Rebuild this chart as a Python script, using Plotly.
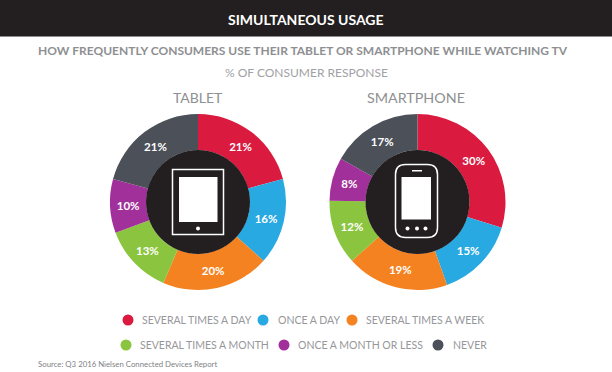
import plotly.graph_objects as go

W, H = 612, 372
categories = ["Several times a day", "Once a day", "Several times a week",
              "Several times a month", "Once a month or less", "Never"]
tablet_values = [21, 16, 20, 13, 10, 21]
smartphone_values = [30, 15, 19, 12, 8, 17]
colors = ["#DA1A3F", "#29A9E1", "#F58220", "#8BC53F", "#A2309A", "#4C5059"]
BLACK = "#231F20"
FONT = "Lato"

def X(p): return p / W
def Y(p): return 1 - p / H

def pie(name, values, cx, cy=202, r=88):
    return go.Pie(
        name=name, labels=categories, values=values, sort=False, direction="clockwise",
        rotation=0, hole=0.59, marker=dict(colors=colors, line=dict(width=0)),
        domain=dict(x=[X(cx - r), X(cx + r)], y=[Y(cy + r), Y(cy - r)]),
        texttemplate="%{value}%", textposition="inside", insidetextorientation="horizontal",
        textfont=dict(family=FONT, size=11.5, color="white", weight="bold"),
        showlegend=False, hoverinfo="label+value",
    )

fig = go.Figure([pie("Tablet", tablet_values, 198), pie("Smartphone", smartphone_values, 417.5)])

shapes = []
def rect(x0, y0, x1, y1, fill=None, line=None, lw=0):
    shapes.append(dict(type="rect", xref="paper", yref="paper", x0=X(x0), x1=X(x1), y0=Y(y1), y1=Y(y0),
                       fillcolor=fill or "rgba(0,0,0,0)", line=dict(color=line or "rgba(0,0,0,0)", width=lw), layer="above"))
def circle(cx, cy, r, fill, line=None, lw=0):
    shapes.append(dict(type="circle", xref="paper", yref="paper", x0=X(cx - r), x1=X(cx + r), y0=Y(cy + r), y1=Y(cy - r),
                       fillcolor=fill, line=dict(color=line or "rgba(0,0,0,0)", width=lw), layer="above"))

# header band
rect(0, 0, W, 36.5, fill=BLACK)
# centre discs
circle(198, 202, 52, BLACK)
circle(417.5, 202, 52, BLACK)
# tablet icon
rect(172.5, 169.5, 223.5, 234.5, line="white", lw=1.5)
rect(179, 177, 217.5, 222, fill="white")
circle(198, 228.5, 2, "white")
# smartphone icon
def rounded(x0, y0, x1, y1, r):
    return (f"M{X(x0+r)},{Y(y0)} L{X(x1-r)},{Y(y0)} Q{X(x1)},{Y(y0)} {X(x1)},{Y(y0+r)} "
            f"L{X(x1)},{Y(y1-r)} Q{X(x1)},{Y(y1)} {X(x1-r)},{Y(y1)} L{X(x0+r)},{Y(y1)} "
            f"Q{X(x0)},{Y(y1)} {X(x0)},{Y(y1-r)} L{X(x0)},{Y(y0+r)} Q{X(x0)},{Y(y0)} {X(x0+r)},{Y(y0)} Z")
shapes.append(dict(type="path", xref="paper", yref="paper", path=rounded(395.5, 164.5, 437.5, 237.5, 10),
                   line=dict(color="white", width=1.5), fillcolor="rgba(0,0,0,0)", layer="above"))
rect(401.5, 177, 431, 219.5, fill="white")
rect(412, 170, 422, 171.5, fill="white")
for dx in (-9.5, 0, 8.5):
    circle(416 + dx + 1, 228.5, 2, "white")

# legend
legend_rows = [
    [(128, 320, 0, 140), (263, 320, 1, 276), (352, 320, 2, 364)],
    [(126, 345, 3, 138), (284, 345, 4, 296), (438, 345, 5, 451)],
]
annotations = []
def text(s, x, y, size, color, anchor="center", weight="normal"):
    annotations.append(dict(text=s, x=X(x), y=Y(y), xref="paper", yref="paper", showarrow=False,
                            xanchor=anchor, yanchor="middle",
                            font=dict(family=FONT, size=size, color=color, weight=weight)))
for row in legend_rows:
    for dot_x, y, i, text_x in row:
        circle(dot_x, y, 5.5, colors[i])
        text(categories[i].upper(), text_x, y, 10.5, "#96979A", "left")

text("SIMULTANEOUS USAGE", 306, 20, 14, "white", weight="bold")
text("HOW FREQUENTLY CONSUMERS USE THEIR TABLET OR SMARTPHONE WHILE WATCHING TV", 302.5, 51, 12, "#8E8F92", weight="bold")
text("% OF CONSUMER RESPONSE", 306, 72, 12, "#A0A1A4")
text("TABLET", 198, 97, 14, "#8E8F92")
text("SMARTPHONE", 416, 97, 14.3, "#8E8F92")
text("Source: Q3 2016 Nielsen Connected Devices Report", 36, 364, 7.8, "#808184", "left")

fig.update_layout(width=W, height=H, margin=dict(l=0, r=0, t=0, b=0), paper_bgcolor="white",
                  shapes=shapes, annotations=annotations, showlegend=False)
fig.write_html("out.html", config=dict(displayModeBar=False),
               post_script="document.body.style.margin='0';document.documentElement.style.overflow='hidden';")
